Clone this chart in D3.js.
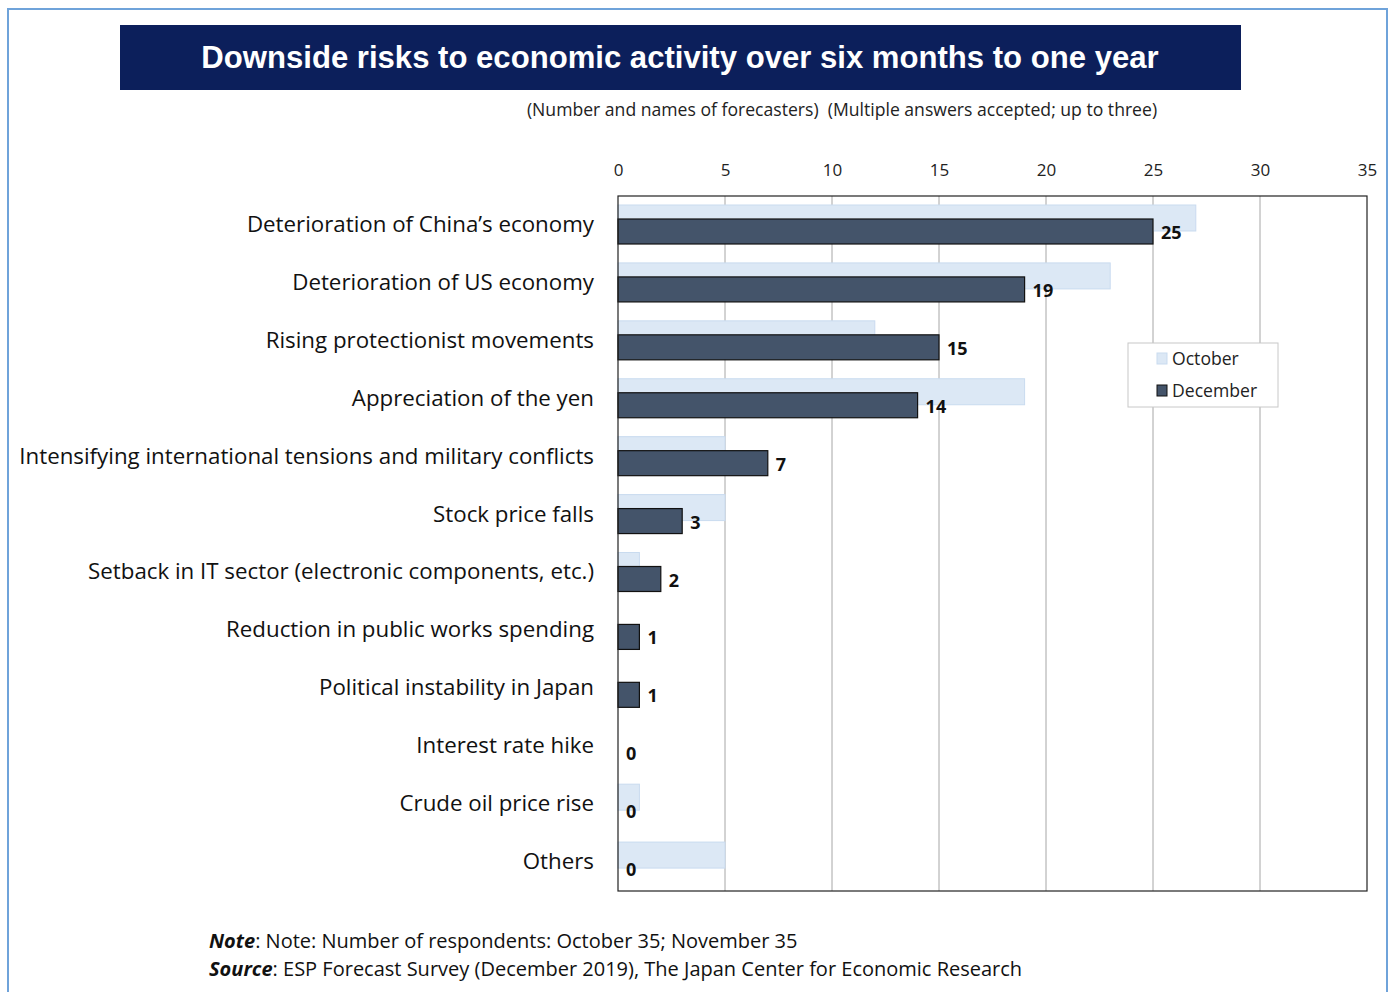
<!DOCTYPE html>
<html>
<head>
<meta charset="utf-8">
<script src="https://cdn.jsdelivr.net/npm/d3@7"></script>
<style>
  html, body { margin: 0; padding: 0; background: #fff; }
  svg { display: block; }
</style>
</head>
<body>
<svg id="chart" width="1390" height="992"></svg>
<script>
const categories = [
  'Deterioration of China\u2019s economy',
  'Deterioration of US economy',
  'Rising protectionist movements',
  'Appreciation of the yen',
  'Intensifying international tensions and military conflicts',
  'Stock price falls',
  'Setback in IT sector (electronic components, etc.)',
  'Reduction in public works spending',
  'Political instability in Japan',
  'Interest rate hike',
  'Crude oil price rise',
  'Others'
];
const october = [27, 23, 12, 19, 5, 5, 1, 0, 0, 0, 1, 5];
const december = [25, 19, 15, 14, 7, 3, 2, 1, 1, 0, 0, 0];
const xTicks = [0, 5, 10, 15, 20, 25, 30, 35];
const seriesNames = ['October', 'December'];

const svg = d3.select('#chart');
const labelFont = '"Open Sans", Lato, sans-serif';

// outer frame
svg.append('path')
  .attr('d', 'M8,992 V9 H1387 V992')
  .attr('fill', 'none')
  .attr('stroke', '#6fa3da')
  .attr('stroke-width', 2);

// title banner
svg.append('rect')
  .attr('x', 120).attr('y', 25).attr('width', 1121).attr('height', 65)
  .attr('fill', '#0c1f5b');
svg.append('text')
  .attr('x', 680).attr('y', 68)
  .attr('text-anchor', 'middle')
  .attr('fill', '#fff')
  .attr('font-family', '"Liberation Sans", Arial, sans-serif')
  .attr('font-weight', 'bold')
  .attr('font-size', 31.1)
  .text('Downside risks to economic activity over six months to one year');

svg.append('text')
  .attr('x', 842).attr('y', 116)
  .attr('text-anchor', 'middle')
  .attr('fill', '#222')
  .attr('font-family', labelFont)
  .attr('font-size', 17.6)
  .attr('xml:space', 'preserve')
  .text('(Number and names of forecasters)  (Multiple answers accepted; up to three)');

const x = d3.scaleLinear().domain([0, 35]).range([618, 1367]);
const y = d3.scaleBand().domain(categories).range([196, 891]);

// grid
svg.append('g')
  .selectAll('line')
  .data(xTicks.slice(1, -1))
  .join('line')
  .attr('x1', d => x(d)).attr('x2', d => x(d))
  .attr('y1', 196).attr('y2', 891)
  .attr('stroke', '#a6a6a6')
  .attr('stroke-width', 1);

// top axis labels
const axis = svg.append('g')
  .attr('transform', 'translate(0,176)')
  .call(d3.axisTop(x).tickValues(xTicks).tickSize(0).tickPadding(0));
axis.select('.domain').remove();
axis.selectAll('text')
  .attr('font-family', labelFont)
  .attr('font-size', 17)
  .attr('fill', '#222');

// October bars (behind)
svg.append('g')
  .selectAll('rect')
  .data(october)
  .join('rect')
  .attr('x', x(0))
  .attr('y', (d, i) => y(categories[i]) + 9)
  .attr('width', d => x(d) - x(0))
  .attr('height', 26)
  .attr('fill', '#dce8f5')
  .attr('stroke', d => d > 0 ? '#c9dbef' : 'none')
  .attr('stroke-width', 1);

// December bars (front)
svg.append('g')
  .selectAll('rect')
  .data(december)
  .join('rect')
  .attr('x', x(0))
  .attr('y', (d, i) => y(categories[i]) + 23)
  .attr('width', d => x(d) - x(0))
  .attr('height', 25)
  .attr('fill', '#44546a')
  .attr('stroke', d => d > 0 ? '#111' : 'none')
  .attr('stroke-width', 1.2);

// value labels
svg.append('g')
  .selectAll('text')
  .data(december)
  .join('text')
  .attr('x', d => x(d) + 8)
  .attr('y', (d, i) => y(categories[i]) + 43)
  .attr('font-family', '"Open Sans", sans-serif')
  .attr('font-weight', 'bold')
  .attr('font-size', 18)
  .attr('fill', '#111')
  .text(d => d);

// plot border
svg.append('rect')
  .attr('x', 618).attr('y', 196).attr('width', 749).attr('height', 695)
  .attr('fill', 'none')
  .attr('stroke', '#222')
  .attr('stroke-width', 1.2);

// category labels
svg.append('g')
  .selectAll('text')
  .data(categories)
  .join('text')
  .attr('x', 594)
  .attr('y', d => y(d) + y.bandwidth() / 2 + 7)
  .attr('text-anchor', 'end')
  .attr('font-family', labelFont)
  .attr('font-size', 22.3)
  .attr('fill', '#111')
  .text(d => d);

// legend
const legend = svg.append('g');
legend.append('rect')
  .attr('x', 1128).attr('y', 343).attr('width', 150).attr('height', 64)
  .attr('fill', '#fff')
  .attr('stroke', '#c8c8c8');
const legendColors = ['#dce8f5', '#44546a'];
const legendStrokes = ['#c9dbef', '#111'];
seriesNames.forEach((name, i) => {
  legend.append('rect')
    .attr('x', 1157).attr('y', 353 + i * 32).attr('width', 10).attr('height', 11)
    .attr('fill', legendColors[i])
    .attr('stroke', legendStrokes[i]);
  legend.append('text')
    .attr('x', 1172).attr('y', 365 + i * 32)
    .attr('font-family', labelFont)
    .attr('font-size', 17.6)
    .attr('fill', '#222')
    .text(name);
});

// notes
const notes = [
  ['Note', ': Note: Number of respondents: October 35; November 35'],
  ['Source', ': ESP Forecast Survey (December 2019), The Japan Center for Economic Research']
];
notes.forEach((n, i) => {
  const t = svg.append('text')
    .attr('x', 209).attr('y', 948 + i * 28)
    .attr('font-family', labelFont)
    .attr('font-size', 20)
    .attr('fill', '#111');
  t.append('tspan').attr('font-weight', 'bold').attr('font-style', 'italic').text(n[0]);
  t.append('tspan').text(n[1]);
});
</script>
</body>
</html>
